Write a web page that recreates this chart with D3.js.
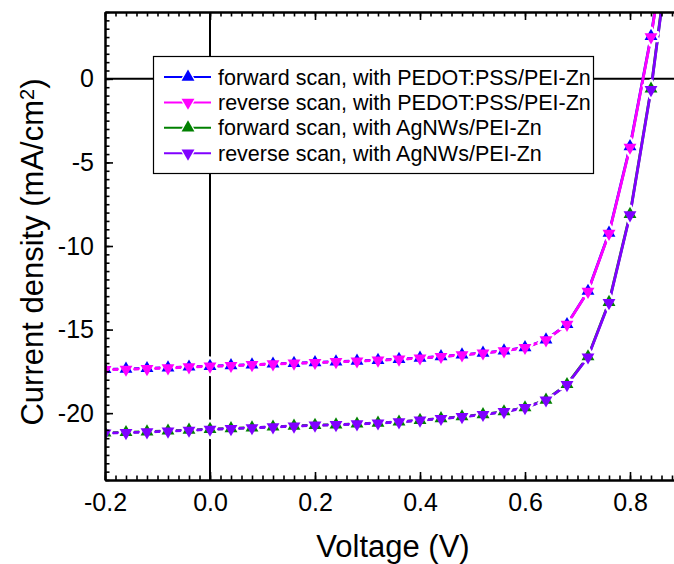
<!DOCTYPE html>
<html>
<head>
<meta charset="utf-8">
<script src="https://cdn.jsdelivr.net/npm/d3@7"></script>
<style>
  body { margin: 0; background: #fff; }
  svg text { font-family: "Liberation Sans", Arial, sans-serif; fill: #000; }
</style>
</head>
<body>
<div id="chart"></div>
<script>
// J-V curves, voltage steps of 0.04 V
var voltage = [-0.2, -0.16, -0.12, -0.08, -0.04, 0.0, 0.04, 0.08, 0.12, 0.16, 0.2, 0.24, 0.28, 0.32,
               0.36, 0.4, 0.44, 0.48, 0.52, 0.56, 0.6, 0.64, 0.68, 0.72, 0.76, 0.8, 0.84, 0.88];

var pedotForward = [-17.38, -17.36, -17.32, -17.28, -17.23, -17.19, -17.15, -17.10, -17.05, -17.01, -16.97, -16.92, -16.88, -16.83,
                    -16.77, -16.70, -16.61, -16.51, -16.40, -16.27, -16.07, -15.61, -14.69, -12.70, -9.22, -4.05, 2.55, 10.6];
var pedotReverse = [-17.40, -17.38, -17.34, -17.30, -17.24, -17.20, -17.16, -17.11, -17.06, -17.02, -16.98, -16.93, -16.89, -16.84,
                    -16.78, -16.71, -16.62, -16.52, -16.41, -16.28, -16.08, -15.62, -14.70, -12.72, -9.25, -4.10, 2.50, 10.5];
var agForward = [-21.18, -21.15, -21.11, -21.06, -21.01, -20.96, -20.92, -20.87, -20.82, -20.77, -20.72, -20.69, -20.64, -20.59,
                 -20.52, -20.42, -20.32, -20.21, -20.08, -19.91, -19.67, -19.21, -18.28, -16.62, -13.36, -8.10, -0.60, 9.1];
var agReverse = [-21.20, -21.17, -21.13, -21.08, -21.03, -20.97, -20.93, -20.88, -20.83, -20.78, -20.73, -20.70, -20.65, -20.60,
                 -20.53, -20.43, -20.33, -20.22, -20.09, -19.92, -19.68, -19.22, -18.30, -16.65, -13.40, -8.15, -0.65, 9.0];

var seriesNames = ["forward scan, with PEDOT:PSS/PEI-Zn", "reverse scan, with PEDOT:PSS/PEI-Zn",
                   "forward scan, with AgNWs/PEI-Zn", "reverse scan, with AgNWs/PEI-Zn"];
var seriesColors = ["#0000ff", "#ff00ff", "#008000", "#8000ff"];
var seriesDown = [false, true, false, true];   // triangle pointing down for reverse scans
var seriesValues = [pedotForward, pedotReverse, agForward, agReverse];

var xTicks = [-0.2, 0.0, 0.2, 0.4, 0.6, 0.8];
var xTickLabels = ["-0.2", "0.0", "0.2", "0.4", "0.6", "0.8"];
var yTicks = [0, -5, -10, -15, -20];
var yTickLabels = ["0", "-5", "-10", "-15", "-20"];

var width = 674, height = 564;
var pLeft = 105, pRight = 682.5, pTop = 12, pBottom = 480;

var svg = d3.select("#chart").append("svg")
    .attr("width", width).attr("height", height);

var xScale = d3.scaleLinear().domain([-0.2, 0.9]).range([pLeft, pRight]);
var yScale = d3.scaleLinear().domain([-24, 4]).range([pBottom, pTop]);

svg.append("clipPath").attr("id", "plotclip")
  .append("rect").attr("x", pLeft).attr("y", pTop)
  .attr("width", pRight - pLeft).attr("height", pBottom - pTop);

var plot = svg.append("g").attr("clip-path", "url(#plotclip)");

// zero lines
plot.append("line")
    .attr("x1", pLeft).attr("x2", pRight)
    .attr("y1", yScale(0)).attr("y2", yScale(0))
    .attr("stroke", "#000").attr("stroke-width", 2);
plot.append("line")
    .attr("x1", xScale(0)).attr("x2", xScale(0))
    .attr("y1", pTop).attr("y2", pBottom)
    .attr("stroke", "#000").attr("stroke-width", 2);

var data = seriesValues.map(function(vals, i) {
    return vals.map(function(v, j) { return { v: voltage[j], j: v, s: i }; });
});

var line = d3.line()
    .x(function(d) { return xScale(d.v); })
    .y(function(d) { return yScale(d.j); });

plot.selectAll(".curve").data(data).enter()
  .append("path").attr("class", "curve")
    .attr("d", line)
    .attr("fill", "none")
    .attr("stroke", function(d, i) { return seriesColors[i]; })
    .attr("stroke-width", 2.8);

var tri = d3.symbol().type(d3.symbolTriangle).size(72);

function markerTransform(d) {
    return "translate(" + xScale(d.v) + "," + yScale(d.j) + ")" + (seriesDown[d.s] ? " rotate(180)" : "");
}

var allPoints = d3.merge(data);

// white gap around symbols, like the original plot
plot.selectAll(".halo").data(allPoints).enter()
  .append("path").attr("class", "halo")
    .attr("d", tri)
    .attr("transform", markerTransform)
    .attr("fill", "#fff").attr("stroke", "#fff").attr("stroke-width", 4.5)
    .attr("stroke-linejoin", "round");

plot.selectAll(".marker").data(allPoints).enter()
  .append("path").attr("class", "marker")
    .attr("d", tri)
    .attr("transform", markerTransform)
    .attr("fill", function(d) { return seriesColors[d.s]; });

// axes
var xMinor = d3.range(-0.2, 0.905, 0.02);
var yMinor = d3.range(-24, 4.01, 0.5);

function styleAxis(g) {
    g.select(".domain").attr("stroke-width", 2);
    g.selectAll(".tick line").attr("stroke-width", 1.6);
    g.selectAll("text").style("font-size", "25px");
}

// minor ticks
svg.append("g").attr("transform", "translate(0," + pBottom + ")")
    .call(d3.axisBottom(xScale).tickValues(xMinor).tickSize(-4.5).tickSizeOuter(0).tickFormat(""))
    .call(styleAxis);
svg.append("g").attr("transform", "translate(0," + pTop + ")")
    .call(d3.axisTop(xScale).tickValues(xMinor).tickSize(-4.5).tickSizeOuter(0).tickFormat(""))
    .call(styleAxis);
svg.append("g").attr("transform", "translate(" + pLeft + ",0)")
    .call(d3.axisLeft(yScale).tickValues(yMinor).tickSize(-4.5).tickSizeOuter(0).tickFormat(""))
    .call(styleAxis);
svg.append("g").attr("transform", "translate(" + pRight + ",0)")
    .call(d3.axisRight(yScale).tickValues(yMinor).tickSize(-4.5).tickSizeOuter(0).tickFormat(""))
    .call(styleAxis);

// major ticks + labels
svg.append("g").attr("transform", "translate(0," + pBottom + ")")
    .call(d3.axisBottom(xScale).tickValues(xTicks).tickSize(-8).tickSizeOuter(0).tickPadding(13)
        .tickFormat(function(d, i) { return xTickLabels[i]; }))
    .call(styleAxis);
svg.append("g").attr("transform", "translate(0," + pTop + ")")
    .call(d3.axisTop(xScale).tickValues(xTicks).tickSize(-8).tickSizeOuter(0).tickFormat(""))
    .call(styleAxis);
svg.append("g").attr("transform", "translate(" + pLeft + ",0)")
    .call(d3.axisLeft(yScale).tickValues(yTicks).tickSize(-8).tickSizeOuter(0).tickPadding(11)
        .tickFormat(function(d, i) { return yTickLabels[i]; }))
    .call(styleAxis);
svg.append("g").attr("transform", "translate(" + pRight + ",0)")
    .call(d3.axisRight(yScale).tickValues(yTicks).tickSize(-8).tickSizeOuter(0).tickFormat(""))
    .call(styleAxis);

// axis titles
svg.append("text")
    .attr("x", 393).attr("y", 557)
    .attr("text-anchor", "middle")
    .style("font-size", "31px")
    .text("Voltage (V)");

var yTitle = svg.append("text")
    .attr("transform", "translate(43,252) rotate(-90)")
    .attr("text-anchor", "middle")
    .style("font-size", "31px");
yTitle.append("tspan").text("Current density (mA/cm");
yTitle.append("tspan").attr("dy", "-0.45em").style("font-size", "20px").text("2");
yTitle.append("tspan").attr("dy", "0.29em").text(")");

// legend
var legend = svg.append("g");
legend.append("rect")
    .attr("x", 153.5).attr("y", 56.5).attr("width", 440).attr("height", 117)
    .attr("fill", "#fff").attr("stroke", "#000").attr("stroke-width", 1.2);

var rows = legend.selectAll(".row").data(seriesNames).enter()
  .append("g").attr("class", "row")
    .attr("transform", function(d, i) { return "translate(0," + (77 + i * 25.4) + ")"; });

rows.append("line")
    .attr("x1", 164).attr("x2", 211)
    .attr("stroke", function(d, i) { return seriesColors[i]; })
    .attr("stroke-width", 2);
rows.append("path")
    .attr("d", tri)
    .attr("transform", function(d, i) {
        return "translate(188,0)" + (seriesDown[i] ? " rotate(180)" : "");
    })
    .attr("fill", function(d, i) { return seriesColors[i]; })
    .attr("stroke", "#fff").attr("stroke-width", 2.5).attr("paint-order", "stroke");
rows.append("text")
    .attr("x", 218).attr("y", 7.5)
    .style("font-size", "21.5px")
    .text(function(d) { return d; });
</script>
</body>
</html>
